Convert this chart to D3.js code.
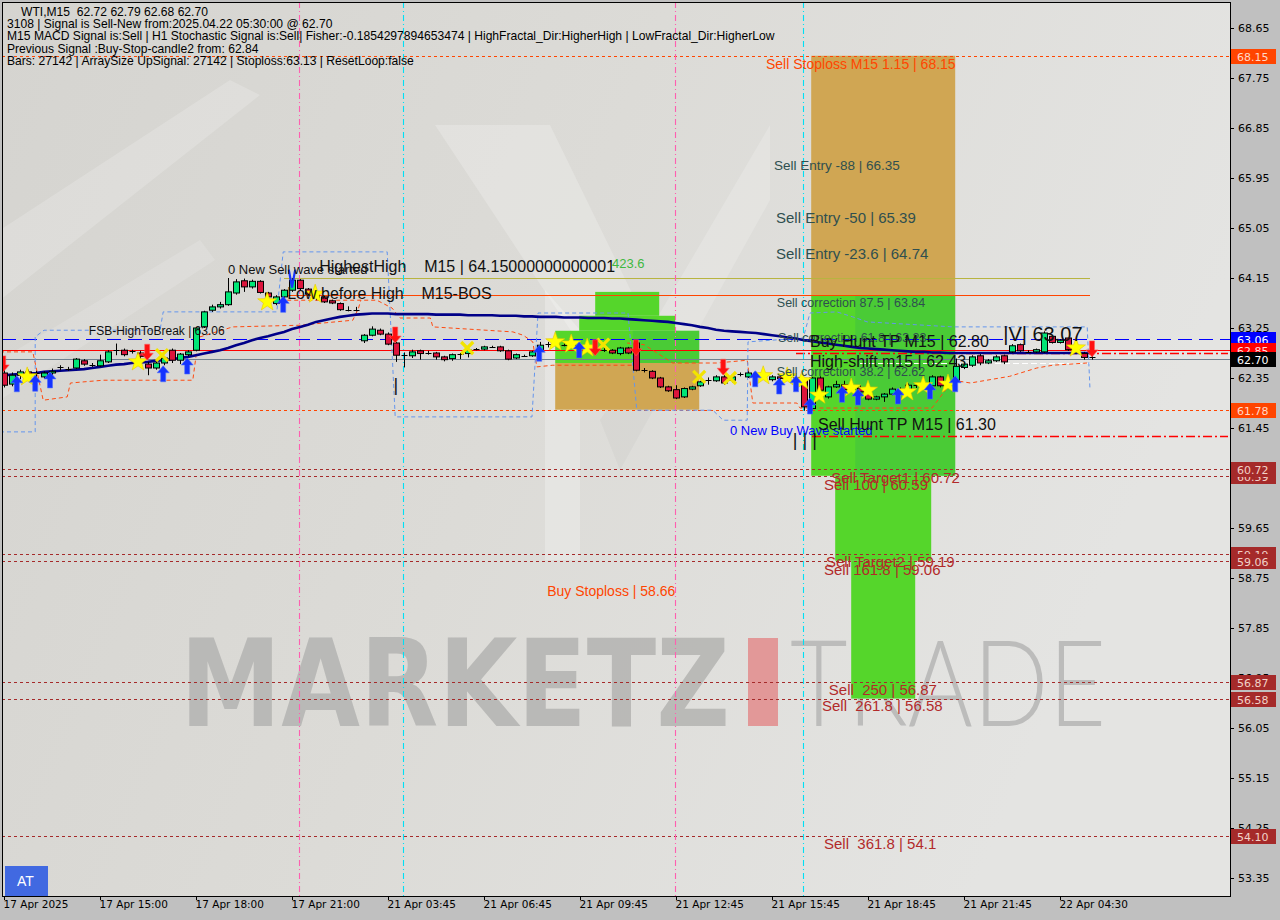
<!DOCTYPE html>
<html><head><meta charset="utf-8">
<script src="https://cdn.jsdelivr.net/npm/d3@7"></script>
<style>body{margin:0;background:#c0c0c0;} svg{display:block} text{white-space:pre}</style>
</head><body>
<svg id="c" width="1280" height="920"></svg>
<script>
// ---------------- DATA ----------------
const timeTickBars = [0,12,24,36,48,60,72,84,96,108,120,132];
const timeLabels = ["17 Apr 2025","17 Apr 15:00","17 Apr 18:00","17 Apr 21:00","21 Apr 03:45","21 Apr 06:45","21 Apr 09:45","21 Apr 12:45","21 Apr 15:45","21 Apr 18:45","21 Apr 21:45","22 Apr 04:30"];
const priceTicks = [68.65,67.75,66.85,65.95,65.05,64.15,63.25,62.35,61.45,60.55,59.65,58.75,57.85,56.95,56.05,55.15,54.25,53.35];

const openP = [62.44,62.24,62.40,62.46,62.42,62.37,62.44,62.53,62.51,62.53,
62.66,62.58,62.57,62.64,62.85,62.85,62.82,62.80,62.60,62.53,
62.62,62.85,62.67,62.77,62.85,63.27,63.57,63.63,63.67,63.88,
64.10,63.99,64.09,63.88,63.69,63.81,63.93,64.11,63.95,63.86,
63.81,63.74,63.69,63.58,63.57,63.02,63.12,63.21,63.14,62.98,
62.76,62.75,62.84,62.80,62.80,62.73,62.70,62.77,62.79,62.87,
62.87,62.91,62.91,62.84,62.71,62.75,62.75,62.85,62.94,62.97,
62.95,62.94,62.92,62.88,62.86,62.85,62.85,62.79,62.89,62.98,
62.49,62.47,62.35,62.19,62.14,62.01,62.15,62.21,62.31,62.30,
62.37,62.31,62.42,62.37,62.43,62.40,62.32,62.37,62.34,62.36,
62.31,61.80,62.35,62.01,62.19,62.23,62.14,62.17,62.08,61.97,
62.01,62.06,62.14,62.13,62.22,62.20,62.21,62.37,62.22,62.31,
62.54,62.58,62.75,62.62,62.66,62.75,62.82,62.95,62.82,62.82,
62.82,63.10,62.99,63.07,62.86,62.79,62.72];
const highP = [62.50,62.45,62.50,62.50,62.48,62.47,62.52,62.58,62.55,62.71,
62.69,62.62,62.77,62.85,62.97,62.88,62.86,62.84,62.64,62.65,
62.74,62.88,62.80,62.85,63.27,63.56,63.67,63.72,64.15,64.13,
64.14,64.12,64.11,63.90,63.84,63.95,64.15,64.13,63.97,63.90,
63.83,63.76,63.71,63.64,63.63,63.14,63.28,63.24,63.17,63.00,
62.81,62.86,62.86,62.84,62.82,62.75,62.79,62.80,62.88,62.89,
62.93,62.93,62.93,62.86,62.79,62.77,62.84,63.00,63.00,62.99,
62.97,62.97,62.95,62.92,62.90,62.92,62.87,62.91,62.91,63.00,
62.53,62.49,62.37,62.21,62.22,62.18,62.21,62.30,62.36,62.40,
62.40,62.40,62.45,62.47,62.46,62.44,62.40,62.41,62.40,62.39,
62.34,62.37,62.38,62.21,62.30,62.30,62.24,62.22,62.10,62.03,
62.08,62.18,62.18,62.25,62.26,62.28,62.40,62.39,62.33,62.70,
62.64,62.76,62.78,62.69,62.76,62.77,62.96,62.97,62.85,62.88,
63.19,63.12,63.05,63.07,62.90,62.82,62.79];
const lowP = [62.18,62.20,62.33,62.36,62.37,62.34,62.40,62.49,62.48,62.51,
62.57,62.55,62.55,62.62,62.76,62.74,62.79,62.70,62.40,62.50,
62.58,62.62,62.60,62.74,62.83,63.25,63.54,63.60,63.65,63.85,
63.90,63.96,63.87,63.78,63.66,63.74,63.90,63.93,63.83,63.75,
63.70,63.68,63.56,63.55,63.55,62.98,63.10,63.12,62.94,62.64,
62.54,62.71,62.68,62.77,62.68,62.65,62.66,62.69,62.72,62.85,
62.85,62.89,62.82,62.67,62.69,62.73,62.73,62.82,62.90,62.94,
62.92,62.88,62.84,62.82,62.82,62.82,62.78,62.76,62.78,62.47,
62.45,62.33,62.17,62.10,61.97,61.99,62.13,62.19,62.23,62.28,
62.23,62.27,62.38,62.35,62.36,62.34,62.29,62.20,62.30,62.25,
61.76,61.76,62.10,61.98,62.17,62.12,62.10,62.08,61.95,61.95,
61.92,62.04,62.09,62.11,62.17,62.17,62.19,62.18,62.19,62.29,
62.51,62.55,62.58,62.60,62.64,62.60,62.80,62.82,62.80,62.80,
62.80,62.97,62.97,62.84,62.80,62.68,62.68];
const closeP = [62.22,62.40,62.46,62.42,62.44,62.44,62.47,62.54,62.52,62.69,
62.60,62.59,62.66,62.82,62.86,62.77,62.83,62.74,62.53,62.62,
62.71,62.67,62.78,62.82,63.25,63.54,63.63,63.67,63.90,64.08,
63.99,64.09,63.89,63.81,63.81,63.93,64.11,63.96,63.86,63.80,
63.72,63.70,63.58,63.57,63.58,63.12,63.23,63.14,62.96,62.76,
62.75,62.82,62.79,62.80,62.73,62.68,62.77,62.78,62.85,62.87,
62.91,62.91,62.84,62.69,62.77,62.75,62.82,62.94,62.96,62.96,
62.94,62.92,62.88,62.86,62.85,62.86,62.80,62.89,62.80,62.49,
62.49,62.35,62.19,62.12,61.99,62.16,62.19,62.28,62.32,62.37,
62.26,62.37,62.42,62.44,62.40,62.38,62.37,62.34,62.36,62.30,
61.83,62.35,62.13,62.19,62.23,62.14,62.16,62.10,61.97,62.01,
62.06,62.15,62.12,62.22,62.20,62.24,62.37,62.21,62.28,62.56,
62.60,62.73,62.62,62.66,62.73,62.64,62.93,62.84,62.82,62.86,
63.16,62.99,63.03,62.86,62.84,62.72,62.70];
const maValues = [62.40,62.41,62.42,62.43,62.44,62.46,62.47,62.48,62.49,62.50,
62.51,62.53,62.55,62.57,62.59,62.60,62.62,62.63,62.64,62.66,
62.67,62.69,62.71,62.73,62.76,62.79,62.82,62.85,62.89,62.94,
62.98,63.03,63.07,63.10,63.14,63.18,63.23,63.27,63.31,63.36,
63.39,63.42,63.45,63.47,63.49,63.50,63.51,63.51,63.51,63.50,
63.50,63.50,63.50,63.50,63.49,63.49,63.49,63.49,63.48,63.48,
63.48,63.48,63.47,63.47,63.47,63.46,63.46,63.45,63.45,63.45,
63.44,63.44,63.44,63.43,63.43,63.43,63.42,63.42,63.41,63.40,
63.39,63.38,63.37,63.36,63.34,63.32,63.30,63.27,63.25,63.22,
63.20,63.19,63.18,63.17,63.16,63.14,63.12,63.10,63.08,63.06,
63.03,63.01,62.99,62.97,62.95,62.93,62.91,62.89,62.88,62.87,
62.86,62.85,62.84,62.83,62.82,62.82,62.81,62.81,62.80,62.80,
62.80,62.80,62.80,62.80,62.80,62.80,62.80,62.80,62.80,62.80,
62.80,62.80,62.80,62.80,62.80,62.80,62.80];

// trailing channel lines: [bar, price]
const orangeTrailA = [[-0.5,62.82],[3.6,62.82],[4.9,61.95],[7.9,62.01],[8.3,62.26],[12.4,62.31],[23.6,62.31],[24.1,62.85],[24.5,63.09],[28.6,63.27],[37,63.30],[43.6,63.39],[44.3,63.60],[44.6,63.75]];
const orangeTrailB = [[35.4,63.75],[46.6,63.75],[48.5,63.61],[49.5,63.43],[53.3,63.43],[53.6,63.27],[63.6,63.18],[64.9,63.12],[66.1,63.00],[66.6,62.55],[68.6,62.58],[78.6,62.58]];
const orangeTrailC = [[77.9,62.98],[80,62.95],[83.6,62.62],[89.1,62.62],[92.9,62.67],[93.6,61.90],[99.1,61.90],[99.5,61.81],[116,61.81],[118.6,62.31],[120.8,62.26],[125.7,62.38],[129.1,62.53],[131.1,62.58],[135.4,62.62]];
const blueTrail = [[-0.5,61.38],[3.9,61.38],[3.9,63.09],[5.0,63.21],[19.5,63.21],[19.9,63.54],[34.1,63.54],[34.9,64.62],[47.9,64.62],[48.9,61.65],[66,61.65],[66.75,63.52],[78,63.52],[79.1,61.77],[88.6,61.77],[89.9,61.59],[92.9,61.59],[93,63.00],[99.9,63.07],[100.75,63.52],[104.1,63.54],[106.1,63.45],[107.9,63.36],[118.6,63.27],[135.4,63.27],[135.75,62.14]];

// signal markers [bar, price]
const upArrows = [[1.6,62.39],[3.9,62.40],[5.75,62.46],[19.9,62.57],[22.9,62.71],[34.9,63.82],[66.9,62.94],[71.9,63.00],[93.9,62.48],[96.9,62.35],[99,62.39],[100.75,61.99],[104.75,62.20],[106.75,62.15],[111.75,62.17],[115.75,62.26],[118.9,62.39]];
const downArrows = [[-0.1,62.46],[17.9,62.67],[48.9,62.98],[73.9,62.75],[79,62.75],[89.9,62.40],[136,62.73]];
const stars = [[2.9,62.37],[16.75,62.64],[32.9,63.72],[38.9,63.86],[68.9,63.00],[70.9,62.96],[72.9,62.89],[94.9,62.39],[97.9,62.37],[99.75,62.30],[101.9,62.04],[105.9,62.17],[108,62.13],[112.9,62.10],[114.9,62.21],[118,62.24],[134,62.89]];
const crosses = [[19.75,62.76],[57.9,62.89],[74.9,62.95],[86.9,62.37],[90.75,62.35]];

// zones [barFrom, barTo, priceTop, priceBottom]
const tanZones = [[100.9,118.9,68.15,63.84],[68.9,86.9,62.62,61.78]];
const greenZones = [[100.9,118.9,63.84,60.59],[103.9,115.9,60.59,59.06],[105.9,113.9,59.06,56.58],[68.9,86.9,63.20,62.62],[71.9,83.9,63.47,63.20],[73.9,81.9,63.90,63.47]];
const darkGreenZones = [[106.4,118.9,63.84,60.59],[78.6,86.9,63.20,62.62]];

// horizontal levels
const fullLevels = [68.15,61.78,63.06,62.85,62.70,60.72,60.59,59.19,59.06,56.87,56.58,54.10];
const levelKinds = ["orange","orange","blue","red","grey","brown","brown","brown","brown","brown","brown","brown"];
const partLevels = [64.15,63.84,62.62,62.80,61.30];
const partFrom = [35,35,107,99,101];
const partTo = [135.75,135.75,135.75,153,153];
const partKinds = ["olive","orangeSolid","white","redDashDot","redDashDot"];

// price labels on axis
const tagPrices = [68.15,63.06,62.85,62.70,61.78,60.59,60.72,59.19,59.06,56.87,56.58,54.10];
const tagText = ["68.15","63.06","62.85","62.70","61.78","60.59","60.72","59.19","59.06","56.87","56.58","54.10"];
const tagKinds = ["orange","blue","red","black","orange","brown","brown","brown","brown","brown","brown","brown"];

// vertical separators
const pinkBars = [36.9,83.9];
const cyanBars = [49.9,99.9];

// annotations: text + anchor [bar, price]
const annTexts = ["0 New Sell wave started","HighestHigh    M15 | 64.15000000000001","Low before High    M15-BOS","FSB-HighToBreak | 63.06","423.6",
"Sell Stoploss M15 1.15 | 68.15","Sell Entry -88 | 66.35","Sell Entry -50 | 65.39","Sell Entry -23.6 | 64.74","Sell correction 87.5 | 63.84",
"Sell correction 61.8 | 63.23","Buy Hunt TP M15 | 62.80","High-shift m15 | 62.43","Sell correction 38.2 | 62.62","|V| 63.07",
"0 New Buy Wave started","Sell Hunt TP M15 | 61.30","| | |","|","Sell Target1 | 60.72","Sell 100 | 60.59","Sell Target2 | 59.19","Sell 161.8 | 59.06",
"Buy Stoploss | 58.66","Sell  250 | 56.87","Sell  261.8 | 56.58","Sell  361.8 | 54.1"];
const annAnchors = [[28,64.22],[39.4,64.26],[35.4,63.77],[10.6,63.12],[76,64.33],
[95.25,67.91],[96.25,66.10],[96.5,65.14],[96.5,64.49],[96.6,63.63],
[96.75,63.00],[100.75,62.91],[100.75,62.55],[96.6,62.39],[124.9,63.02],
[90.75,61.32],[101.75,61.42],[98.6,61.12],[48.7,62.12],[103.4,60.46],[102.5,60.34],[102.75,58.95],[102.5,58.80],
[67.9,58.43],[103.1,56.64],[102.25,56.36],[102.5,53.87]];
const annStyle = ["s13","s16","s16","s12","green","orange","slate13","slate15","slate15","slate12",
"slate12","s16","s16","slate12","s20","blue","s16","s18","s18","brown","brown","brown","brown","orange2","brown","brown","brown"];

const headerLines = ["WTI,M15  62.72 62.79 62.68 62.70",
"3108 | Signal is Sell-New from:2025.04.22 05:30:00 @ 62.70",
"M15 MACD Signal is:Sell | H1 Stochastic Signal is:Sell| Fisher:-0.1854297894653474 | HighFractal_Dir:HigherHigh | LowFractal_Dir:HigherLow",
"Previous Signal :Buy-Stop-candle2 from: 62.84",
"Bars: 27142 | ArraySize UpSignal: 27142 | Stoploss:63.13 | ResetLoop:false"];

// ---------------- DRAW ----------------
const W=1280,H=920, pL=2,pR=1230,pT=2,pB=896;
const svg=d3.select('#c');
const x=d3.scaleLinear().domain([0,153]).range([4,1228]);
const y=d3.scaleLinear().domain([53.35,68.65]).range([878,28]);
const F="'Liberation Sans', Arial, sans-serif";

const defs=svg.append('defs');
const g1=defs.append('linearGradient').attr('id','bg').attr('x1','0').attr('y1','0').attr('x2','1').attr('y2','0.3');
g1.append('stop').attr('offset','0').attr('stop-color','#d5d4d0');
g1.append('stop').attr('offset','0.5').attr('stop-color','#dcdbd7');
g1.append('stop').attr('offset','1').attr('stop-color','#e4e4e2');
defs.append('clipPath').attr('id','clip').append('rect').attr('x',pL).attr('y',pT).attr('width',pR-pL).attr('height',pB-pT);

svg.append('rect').attr('width',W).attr('height',H).attr('fill','#c0c0c0');
svg.append('rect').attr('x',pL).attr('y',pT).attr('width',pR-pL).attr('height',pB-pT).attr('fill','url(#bg)');

const P=svg.append('g').attr('clip-path','url(#clip)');

// faint background streaks and logo
const wm=P.append('g');
wm.append('polygon').attr('points','0,230 230,80 260,95 0,300').attr('fill','#fff').attr('opacity',0.18);
wm.append('polygon').attr('points','0,360 200,240 215,260 0,400').attr('fill','#fff').attr('opacity',0.14);
wm.append('polygon').attr('points','435,125 550,125 650,330 610,390').attr('fill','#fff').attr('opacity',0.22);
wm.append('polygon').attr('points','545,290 580,330 580,560 545,560').attr('fill','#fff').attr('opacity',0.25);
wm.append('polygon').attr('points','650,330 770,125 770,200 670,380').attr('fill','#fff').attr('opacity',0.18);
wm.append('polygon').attr('points','600,420 660,330 670,380 620,470').attr('fill','#aaa').attr('opacity',0.12);
wm.append('text').attr('x',180).attr('y',726).attr('textLength',550).attr('lengthAdjust','spacingAndGlyphs')
  .attr('font-family',"'DejaVu Sans', sans-serif").attr('font-weight','bold').attr('font-size',121)
  .attr('fill','#b6b6b4').attr('opacity',0.9).text('MARKETZ');
wm.append('rect').attr('x',748).attr('y',638).attr('width',30).attr('height',88).attr('fill','#e29090').attr('opacity',0.9);
wm.append('text').attr('x',790).attr('y',726).attr('textLength',316).attr('lengthAdjust','spacingAndGlyphs')
  .attr('font-family',"Lato, sans-serif").attr('font-weight',300).attr('font-size',121)
  .attr('fill','#bcbcbb').text('TRADE');

// zones
P.selectAll('.tz').data(tanZones).enter().append('rect')
 .attr('x',d=>x(d[0])).attr('width',d=>x(d[1])-x(d[0])).attr('y',d=>y(d[2])).attr('height',d=>y(d[3])-y(d[2]))
 .attr('fill','#d0a653');
P.selectAll('.gz').data(greenZones).enter().append('rect')
 .attr('x',d=>x(d[0])).attr('width',d=>x(d[1])-x(d[0])).attr('y',d=>y(d[2])).attr('height',d=>y(d[3])-y(d[2]))
 .attr('fill','#55d62b');
P.selectAll('.dz').data(darkGreenZones).enter().append('rect')
 .attr('x',d=>x(d[0])).attr('width',d=>x(d[1])-x(d[0])).attr('y',d=>y(d[2])).attr('height',d=>y(d[3])-y(d[2]))
 .attr('fill','#3fbf45').attr('opacity',0.45);

// horizontal levels
const lvlStyle={orange:{c:'#ff4500',d:'3,3',w:1},blue:{c:'#0000ff',d:'14,7',w:1.2},red:{c:'#ff0000',d:null,w:1.2},
 grey:{c:'#708090',d:null,w:1.2},brown:{c:'#a52a2a',d:'3,3',w:1},olive:{c:'#b8b440',d:null,w:1},
 orangeSolid:{c:'#ff4500',d:null,w:1},white:{c:'#ffffff',d:'6,3',w:1},redDashDot:{c:'#ff0000',d:'9,3,2,3',w:1.3}};
fullLevels.forEach((p,i)=>{const s=lvlStyle[levelKinds[i]];
 P.append('line').attr('x1',pL).attr('x2',pR).attr('y1',Math.round(y(p))+0.5).attr('y2',Math.round(y(p))+0.5)
  .attr('stroke',s.c).attr('stroke-width',s.w).attr('stroke-dasharray',s.d);});
partLevels.forEach((p,i)=>{const s=lvlStyle[partKinds[i]];
 P.append('line').attr('x1',x(partFrom[i])).attr('x2',Math.min(pR,x(partTo[i]))).attr('y1',Math.round(y(p))+0.5).attr('y2',Math.round(y(p))+0.5)
  .attr('stroke',s.c).attr('stroke-width',s.w).attr('stroke-dasharray',s.d);});

// vertical separators
pinkBars.forEach(b=>P.append('line').attr('x1',Math.round(x(b))+0.5).attr('x2',Math.round(x(b))+0.5).attr('y1',pT).attr('y2',pB)
  .attr('stroke','#ff5fb0').attr('stroke-width',1.1).attr('stroke-dasharray','6,3,1,3'));
cyanBars.forEach(b=>P.append('line').attr('x1',Math.round(x(b))+0.5).attr('x2',Math.round(x(b))+0.5).attr('y1',pT).attr('y2',pB)
  .attr('stroke','#00e0f5').attr('stroke-width',1.1).attr('stroke-dasharray','6,3,1,3'));

// trails
const ln=d3.line().x(d=>x(d[0])).y(d=>y(d[1]));
[orangeTrailA,orangeTrailB,orangeTrailC].forEach(t=>P.append('path').attr('d',ln(t)).attr('fill','none')
  .attr('stroke','#ff4a10').attr('stroke-width',1).attr('stroke-dasharray','4,3'));
P.append('path').attr('d',ln(blueTrail)).attr('fill','none').attr('stroke','#6495ed').attr('stroke-width',1).attr('stroke-dasharray','4,3');

// MA
P.append('path').attr('d',d3.line().x((d,i)=>x(i)).y(d=>y(d))(maValues)).attr('fill','none')
 .attr('stroke','#000088').attr('stroke-width',2.6);

// candles
const cg=P.append('g');
openP.forEach((o,i)=>{
 const c=closeP[i], cx=Math.round(x(i))+0.5;
 cg.append('line').attr('x1',cx).attr('x2',cx).attr('y1',y(highP[i])).attr('y2',y(lowP[i])).attr('stroke','#000').attr('stroke-width',1);
 const top=y(Math.max(o,c)), bot=y(Math.min(o,c));
 if (bot-top<1.5){ cg.append('line').attr('x1',cx-3).attr('x2',cx+3).attr('y1',Math.round(top)+0.5).attr('y2',Math.round(top)+0.5).attr('stroke','#000'); }
 else cg.append('rect').attr('x',cx-3).attr('y',top).attr('width',6).attr('height',bot-top)
   .attr('fill',c>o?'#00e676':'#dc143c').attr('stroke','#000').attr('stroke-width',1);
});

// markers
const mk=P.append('g');
stars.forEach(d=>{const cx=x(d[0]),cy=y(d[1]);let pts=[];
 for(let k=0;k<10;k++){const r=k%2?4:10,a=-Math.PI/2+k*Math.PI/5;pts.push([cx+r*Math.cos(a),cy+r*Math.sin(a)]);}
 mk.append('polygon').attr('points',pts.map(p=>p.join(',')).join(' ')).attr('fill','#ffff00').attr('stroke','#e8c800').attr('stroke-width',0.6);});
crosses.forEach(d=>{const cx=x(d[0]),cy=y(d[1]);
 mk.append('path').attr('d',`M${cx-6},${cy-6}L${cx+6},${cy+6}M${cx+6},${cy-6}L${cx-6},${cy+6}`).attr('stroke','#f2e400').attr('stroke-width',3.2);});
upArrows.forEach(d=>{const cx=x(d[0]),ty=y(d[1]);
 mk.append('path').attr('d',`M${cx},${ty}L${cx+6},${ty+7}L${cx+2.5},${ty+7}L${cx+2.5},${ty+16}L${cx-2.5},${ty+16}L${cx-2.5},${ty+7}L${cx-6},${ty+7}Z`)
  .attr('fill','#1533ff').attr('stroke','#4b6bff').attr('stroke-width',0.6);});
downArrows.forEach(d=>{const cx=x(d[0]),ty=y(d[1]);
 mk.append('path').attr('d',`M${cx},${ty}L${cx+6},${ty-7}L${cx+2.5},${ty-7}L${cx+2.5},${ty-16}L${cx-2.5},${ty-16}L${cx-2.5},${ty-7}L${cx-6},${ty-7}Z`)
  .attr('fill','#ff1010').attr('stroke','#ff6060').attr('stroke-width',0.6);});
// blue V mark
mk.append('path').attr('d',`M${x(35.6)},${y(64.30)}L${x(36.0)},${y(63.98)}L${x(36.4)},${y(64.30)}`).attr('fill','none').attr('stroke','#1533ff').attr('stroke-width',2.2);

// annotations
const st={s12:[12,'#111'],s13:[13,'#111'],s16:[16,'#111'],s18:[18,'#111'],s20:[20,'#111'],green:[13,'#3fb83f'],orange:[14,'#ff4500'],orange2:[14,'#ff4500'],
 slate12:[12.5,'#2f4f4f'],slate13:[13.5,'#2f4f4f'],slate15:[15,'#2f4f4f'],blue:[13,'#0000ff'],brown:[15,'#b22a2a']};
annTexts.forEach((t,i)=>{const s=st[annStyle[i]];
 P.append('text').attr('x',x(annAnchors[i][0])).attr('y',y(annAnchors[i][1])).attr('font-family',F)
  .attr('font-size',s[0]).attr('fill',s[1]).text(t);});

// axes
const ya=svg.append('g').attr('transform',`translate(${pR},0)`).call(d3.axisRight(y).tickValues(priceTicks).tickSize(4).tickPadding(4).tickFormat(d3.format('.2f')));
ya.select('.domain').remove();
ya.selectAll('text').attr('font-family',"'DejaVu Sans', sans-serif").attr('font-size',11).attr('fill','#000');
ya.selectAll('line').attr('stroke','#000');
const xa=svg.append('g').attr('transform',`translate(0,${pB})`).call(d3.axisBottom(x).tickValues(timeTickBars).tickSize(4).tickFormat((d,i)=>timeLabels[i]));
xa.select('.domain').remove();
xa.selectAll('text').attr('font-family',"'DejaVu Sans', sans-serif").attr('font-size',10.5).attr('fill','#000').attr('text-anchor','start').attr('x',-1).attr('dy','0.55em').attr('y',6);
xa.selectAll('line').attr('stroke','#000');

// price tags
const tagC={orange:['#ff4500','#ffd8c8'],blue:['#0000ff','#ffffff'],red:['#ff0000','#ffdede'],black:['#000000','#ffffff'],brown:['#a52a2a','#f2d2c8']};
tagPrices.forEach((p,i)=>{const c=tagC[tagKinds[i]],yy=Math.round(y(p));
 svg.append('rect').attr('x',pR+1).attr('y',yy-7).attr('width',45).attr('height',15).attr('fill',c[0]);
 svg.append('text').attr('x',pR+7).attr('y',yy+4.5).attr('font-family',"'DejaVu Sans', sans-serif").attr('font-size',11).attr('fill',c[1]).text(tagText[i]);});

// frame
svg.append('rect').attr('x',pL+0.5).attr('y',pT+0.5).attr('width',pR-pL).attr('height',pB-pT).attr('fill','none').attr('stroke','#000').attr('stroke-width',1);

// header
headerLines.forEach((t,i)=>svg.append('text').attr('x',i===0?21:7).attr('y',16+i*12.2).attr('font-family',F).attr('font-size',12.1).attr('fill','#000').text(t));

// AT button
svg.append('rect').attr('x',5).attr('y',866).attr('width',43).attr('height',30).attr('fill','#4169e1');
svg.append('text').attr('x',17).attr('y',886).attr('font-family',F).attr('font-size',14).attr('fill','#fff').text('AT');
</script>
</body></html>
